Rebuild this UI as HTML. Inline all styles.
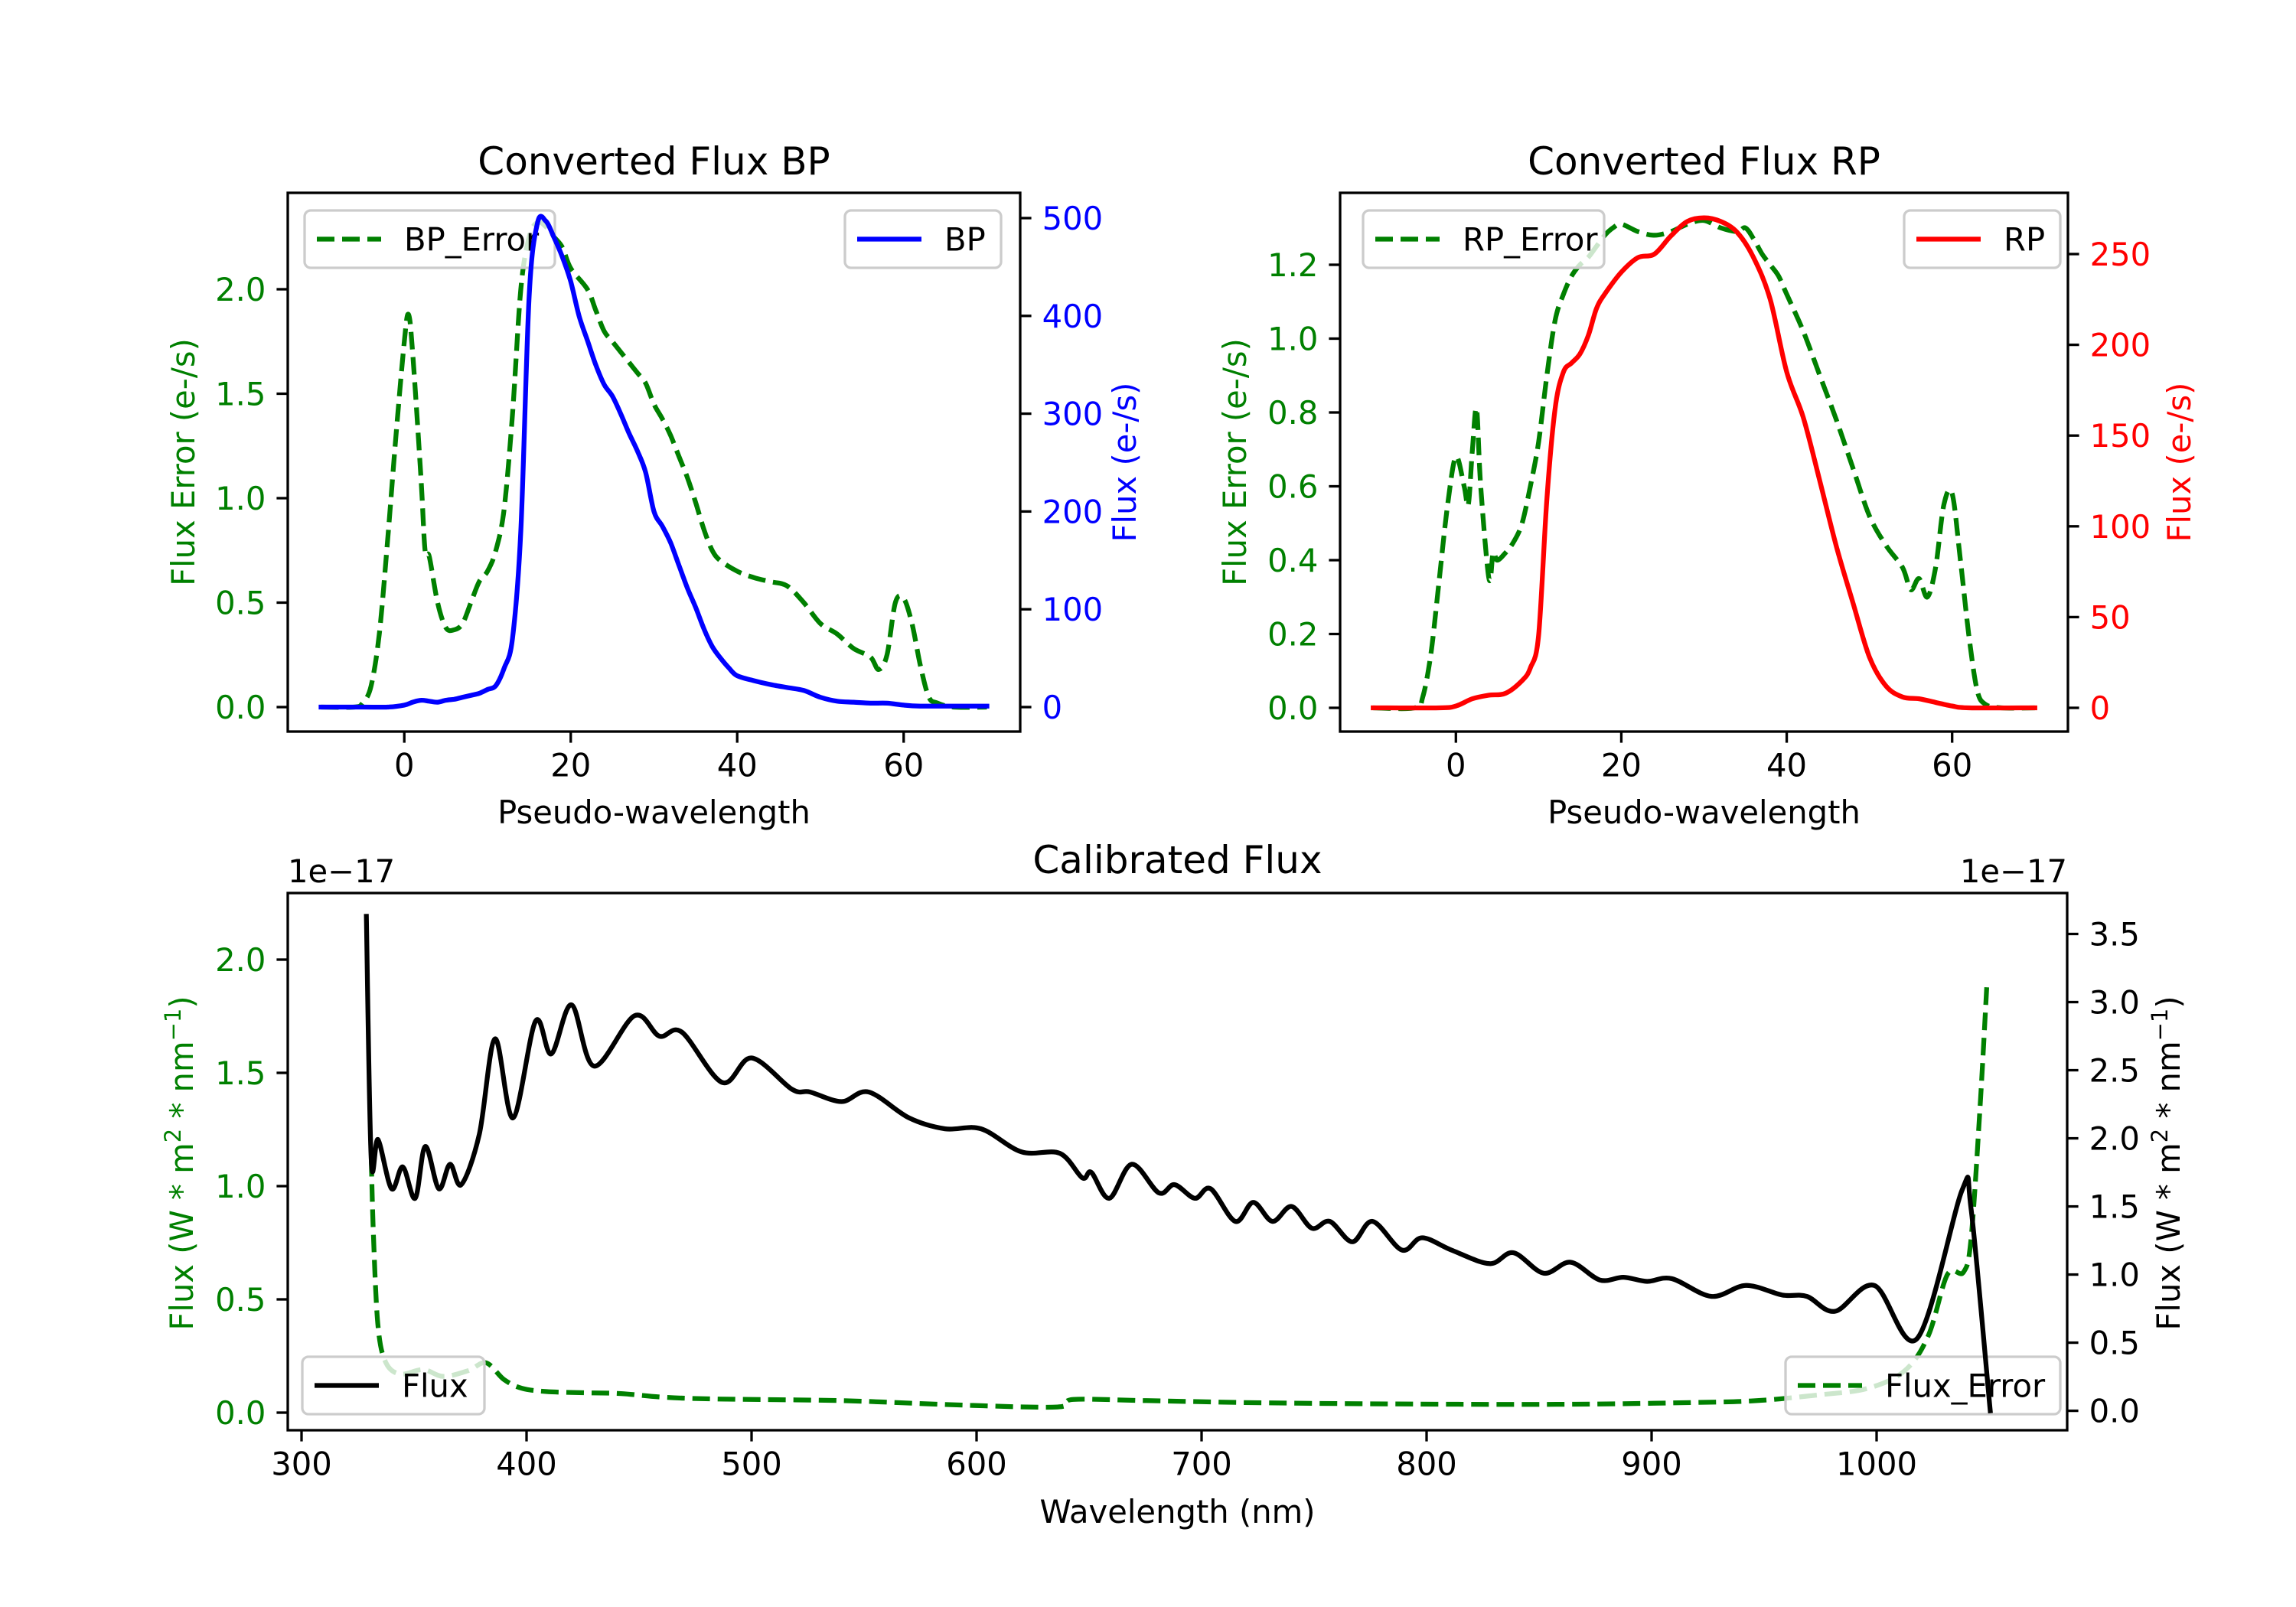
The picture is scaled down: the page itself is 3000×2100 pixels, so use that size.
<!DOCTYPE html>
<html><head><meta charset="utf-8">
<style>
html,body{margin:0;padding:0;background:#fff;}
svg{display:block;font-family:"DejaVu Sans","Liberation Sans",sans-serif;}
</style></head>
<body>
<svg id="fig" xmlns="http://www.w3.org/2000/svg" width="3000" height="2100" viewBox="0 0 3000 2100">
<rect width="3000" height="2100" fill="#fff"/>
</svg>
<script>
// ---------- BP panel data ----------
const bpX   = [-10,-5,-2,0,1,2,3,4,5,6,7,8,9,10,11,12,13,14,15,16,17,18,19,20,21,22,23,24,25,26,27,28,29,30,31,32,33,34,35,36,37,38,39,40,42,44,46,48,50,52,54,56,58,60,62,66,70];
const bpVal = [0,0,0,2,5,7,6,5,7,8,10,12,14,18,22,40,70,180,420,495,497,480,460,435,400,375,350,330,318,300,280,262,240,200,185,168,145,122,102,80,62,50,40,32,27,23,20,17,10,6,5,4,4,2,1,1,1];
const bpErrX   = [-10,-6,-5,-4,-3,-2,-1,0,0.5,1,2,2.5,3,4,5,6,7,8,9,10,11,12,13,14,15,16,17,18,19,20,22,23,24,25,26,27,28,29,30,31,32,33,34,35,36,37,38,40,42,44,46,48,50,52,54,56,57,58,59,60,61,62,63,64,66,70];
const bpErrVal = [0,0,0.02,0.1,0.35,0.8,1.3,1.75,1.88,1.7,1.1,0.75,0.72,0.5,0.38,0.37,0.4,0.5,0.6,0.65,0.75,0.95,1.4,2.0,2.25,2.32,2.3,2.25,2.2,2.1,2.0,1.9,1.8,1.75,1.7,1.65,1.6,1.55,1.45,1.38,1.3,1.2,1.1,0.98,0.85,0.75,0.7,0.65,0.62,0.6,0.58,0.5,0.4,0.35,0.28,0.24,0.18,0.25,0.5,0.52,0.4,0.2,0.05,0.02,0,0];
// ---------- RP panel data ----------
const rpX   = [-10,-2,0,2,4,6,8,9,10,11,12,13,14,15,16,17,18,20,22,24,26,28,30,32,34,36,38,40,42,44,46,48,50,52,54,56,58,60,62,70];
const rpVal = [0,0,1,5,7,8,15,22,40,115,165,185,190,195,205,220,228,240,248,250,260,268,270,268,262,248,225,185,160,125,89,58,28,12,6,5,3,1,0,0];
const rpErrX   = [-10,-5,-4,-3,-2,-1,0,1,1.5,2,2.5,3,4,4.5,5,6,7,8,9,10,11,12,13,14,15,16,17,18,19,20,22,24,26,28,30,32,34,35,36,37,38,39,40,42,44,46,48,50,52,54,55,56,57,58,59,60,61,62,63,64,66,70];
const rpErrVal = [0,0,0.03,0.15,0.35,0.55,0.68,0.6,0.55,0.7,0.81,0.6,0.35,0.42,0.4,0.42,0.45,0.5,0.6,0.72,0.9,1.05,1.12,1.17,1.2,1.22,1.25,1.28,1.3,1.31,1.29,1.28,1.29,1.31,1.32,1.3,1.29,1.3,1.27,1.23,1.2,1.17,1.12,1.02,0.9,0.78,0.65,0.52,0.44,0.38,0.32,0.35,0.3,0.38,0.55,0.58,0.4,0.2,0.05,0.01,0,0];
// ---------- Calibrated panel data (units 1e-17) ----------
const wlFlux = [328.8,331,334,340,345,350.5,355,361,366,371,379,386,394,404,411,420,430,448,459,469,487,500,518,526,540,552,570,586,602,620,637,647,651,659,669,681,688,697,704,715,723,731.5,740,749,757,767,776,789,798,811,828,838.6,852,864,877,887.5,898,909,926.6,942,958,969,981.5,999,1018,1038,1042,1050.5];
const fluxVal = [3.63,1.84,1.99,1.63,1.79,1.56,1.94,1.63,1.81,1.66,2.03,2.73,2.15,2.86,2.62,2.98,2.53,2.90,2.75,2.78,2.41,2.59,2.36,2.34,2.27,2.34,2.15,2.07,2.07,1.90,1.89,1.71,1.75,1.56,1.81,1.60,1.66,1.56,1.63,1.39,1.53,1.39,1.50,1.34,1.39,1.24,1.39,1.18,1.27,1.18,1.08,1.16,1.01,1.09,0.96,0.98,0.95,0.97,0.84,0.92,0.85,0.84,0.73,0.92,0.53,1.62,1.48,0.0];
const wlErr = [331,332,334,337.5,344,354,363,374,382,390,398,409,425.5,442,461,485,540,594,636,643,675.5,730,811,866,920,947,974,996,1012.5,1023,1031.5,1038.6,1042,1046,1049];
const fluxErrVal = [1.12,0.77,0.38,0.22,0.17,0.19,0.16,0.185,0.22,0.146,0.107,0.093,0.088,0.084,0.068,0.06,0.053,0.033,0.025,0.058,0.053,0.043,0.037,0.037,0.045,0.053,0.078,0.107,0.185,0.34,0.61,0.62,0.77,1.35,1.89];
// ---------- tick labels ----------
const pwTicks = [0,20,40,60];
const bpErrTicks = [0.0,0.5,1.0,1.5,2.0];
const bpTicks = [0,100,200,300,400,500];
const rpErrTicks = [0.0,0.2,0.4,0.6,0.8,1.0,1.2];
const rpTicks = [0,50,100,150,200,250];
const wlTicks = [300,400,500,600,700,800,900,1000];
const calErrTicks = [0.0,0.5,1.0,1.5,2.0];
const calFluxTicks = [0.0,0.5,1.0,1.5,2.0,2.5,3.0,3.5];

const NS='http://www.w3.org/2000/svg';
const svg=document.getElementById('fig');
function mk(tag,attrs,parent){const e=document.createElementNS(NS,tag);for(const k in attrs)e.setAttribute(k,attrs[k]);(parent||svg).appendChild(e);return e;}
function lin(d0,d1,p0,p1){return v=>p0+(v-d0)*(p1-p0)/(d1-d0);}
const FS=41.7, TL=14.6, LW=6.25, FW=3.3;
const GREEN='#008000';

function path(xs,ys,sx,sy,color,dashed,name,g){
  const P=xs.map((x,i)=>[sx(x),sy(ys[i])]);
  let d='M'+P[0][0].toFixed(1)+','+P[0][1].toFixed(1);
  const t=0.33;
  for(let i=0;i<P.length-1;i++){
    const p0=P[Math.max(0,i-1)],p1=P[i],p2=P[i+1],p3=P[Math.min(P.length-1,i+2)];
    const c1=[p1[0]+(p2[0]-p0[0])*t/2,p1[1]+(p2[1]-p0[1])*t/2];
    const c2=[p2[0]-(p3[0]-p1[0])*t/2,p2[1]-(p3[1]-p1[1])*t/2];
    d+='C'+c1[0].toFixed(1)+','+c1[1].toFixed(1)+' '+c2[0].toFixed(1)+','+c2[1].toFixed(1)+' '+p2[0].toFixed(1)+','+p2[1].toFixed(1);
  }
  const p=mk('path',{d:d,fill:'none',stroke:color,'stroke-width':LW,'stroke-linejoin':'round','stroke-linecap':dashed?'butt':'square'},g);
  if(dashed)p.setAttribute('stroke-dasharray','23 10');
  
  
  return p;
}
function text(x,y,s,opts,g){
  const t=mk('text',Object.assign({x:x,y:y,'font-size':FS,fill:'#000'},opts||{}),g);
  t.textContent=s;return t;
}
function fmt(v,dec){return v.toFixed(dec);}
function leftTicks(ticks,sy,x0,color,dec,name){
  const g=mk('g',{});
  ticks.forEach(v=>{const y=sy(v);mk('line',{x1:x0-TL,x2:x0,y1:y,y2:y,stroke:'#000','stroke-width':FW},g);
    text(x0-TL-14,y+15,fmt(v,dec),{'text-anchor':'end',fill:color},g);});
}
function rightTicks(ticks,sy,x1,color,dec,name){
  const g=mk('g',{});
  ticks.forEach(v=>{const y=sy(v);mk('line',{x1:x1,x2:x1+TL,y1:y,y2:y,stroke:'#000','stroke-width':FW},g);
    text(x1+TL+14,y+15,fmt(v,dec),{'text-anchor':'start',fill:color},g);});
}
function bottomTicks(ticks,sx,y1,name){
  const g=mk('g',{});
  ticks.forEach(v=>{const x=sx(v);mk('line',{x1:x,x2:x,y1:y1,y2:y1+TL,stroke:'#000','stroke-width':FW},g);
    text(x,y1+TL+44,String(v),{'text-anchor':'middle'},g);});
}
function legend(x0,y0,x1,y1,color,dashed,label,name){
  const g=mk('g',{});
  mk('rect',{x:x0,y:y0,width:x1-x0,height:y1-y0,rx:8,fill:'#fff','fill-opacity':0.8,stroke:'#cccccc','stroke-width':FW},g);
  const ym=(y0+y1)/2;
  const l=mk('line',{x1:x0+16,x2:x0+100,y1:ym,y2:ym,stroke:color,'stroke-width':LW},g);
  if(dashed)l.setAttribute('stroke-dasharray','23 10');
  text(x0+130,ym+15,label,{},g);
}
function vlabel(x,y,s,color,name,sup){
  const t=mk('text',{x:0,y:0,'font-size':FS,fill:color,'text-anchor':'middle',transform:`translate(${x},${y}) rotate(-90)`});
  
  
  if(sup){t.innerHTML=s;}else t.textContent=s;
}
function frame(x0,y0,x1,y1,name){
  const r=mk('rect',{x:x0,y:y0,width:x1-x0,height:y1-y0,fill:'none',stroke:'#000','stroke-width':FW});
  
  
}
function clip(id,x0,y0,x1,y1){const c=mk('clipPath',{id:id});mk('rect',{x:x0,y:y0,width:x1-x0,height:y1-y0},c);}

// ===== Panel 1: BP =====
(function(){
  const L=376,R=1333,T=252,B=956;
  const sx=lin(-14,74,L,R);
  const sy1=lin(0,2.0,924,378);
  const sy2=lin(0,500,924,285);
  clip('c1',L,T,R,B);
  const g=mk('g',{'clip-path':'url(#c1)'});
  path(bpErrX,bpErrVal,sx,sy1,GREEN,true,'bp-error-line',g);
  legend(398,275,725,350,GREEN,true,'BP_Error','bp-error-legend');
  const g2=mk('g',{'clip-path':'url(#c1)'});
  path(bpX,bpVal,sx,sy2,'#0000ff',false,'bp-flux-line',g2);
  legend(1104,275,1308,350,'#0000ff',false,'BP','bp-legend');
  frame(L,T,R,B,'bp-axes-frame');
  leftTicks(bpErrTicks,sy1,L,GREEN,1,'bp-left-y-ticks');
  rightTicks(bpTicks,sy2,R,'#0000ff',0,'bp-right-y-ticks');
  bottomTicks(pwTicks,sx,B,'bp-x-ticks');
  const t=text((L+R)/2,228,'Converted Flux BP',{'text-anchor':'middle','font-size':50});
  const xl=text((L+R)/2,1076,'Pseudo-wavelength',{'text-anchor':'middle'});
  vlabel(254,604,'Flux Error (e-/s)',GREEN,'bp-left-y-axis-title');
  vlabel(1484,604,'Flux (e-/s)','#0000ff','bp-right-y-axis-title');
})();

// ===== Panel 2: RP =====
(function(){
  const L=1751,R=2702,T=252,B=956;
  const sx=lin(-14,74,L,R);
  const sy1=lin(0,1.2,925,346);
  const sy2=lin(0,250,925,332);
  clip('c2',L,T,R,B);
  const g=mk('g',{'clip-path':'url(#c2)'});
  path(rpErrX,rpErrVal,sx,sy1,GREEN,true,'rp-error-line',g);
  legend(1781,275,2096,350,GREEN,true,'RP_Error','rp-error-legend');
  const g2=mk('g',{'clip-path':'url(#c2)'});
  path(rpX,rpVal,sx,sy2,'#ff0000',false,'rp-flux-line',g2);
  legend(2488,275,2692,350,'#ff0000',false,'RP','rp-legend');
  frame(L,T,R,B,'rp-axes-frame');
  leftTicks(rpErrTicks,sy1,L,GREEN,1,'rp-left-y-ticks');
  rightTicks(rpTicks,sy2,R,'#ff0000',0,'rp-right-y-ticks');
  bottomTicks(pwTicks,sx,B,'rp-x-ticks');
  const t=text((L+R)/2,228,'Converted Flux RP',{'text-anchor':'middle','font-size':50});
  const xl=text((L+R)/2,1076,'Pseudo-wavelength',{'text-anchor':'middle'});
  vlabel(1628,604,'Flux Error (e-/s)',GREEN,'rp-left-y-axis-title');
  vlabel(2862,604,'Flux (e-/s)','#ff0000','rp-right-y-axis-title');
})();

// ===== Panel 3: Calibrated =====
(function(){
  const L=376,R=2701,T=1167,B=1869;
  const sx=lin(300,1000,394,2452);
  const sy1=lin(0,2.0,1846,1254);
  const sy2=lin(0,3.5,1843.6,1220.5);
  clip('c3',L,T,R,B);
  const g=mk('g',{'clip-path':'url(#c3)'});
  path(wlErr,fluxErrVal,sx,sy1,GREEN,true,'flux-error-line',g);
  legend(395,1773,633,1848,'#000',false,'Flux','flux-legend');
  legend(2333,1773,2692,1848,GREEN,true,'Flux_Error','flux-error-legend');
  const g2=mk('g',{'clip-path':'url(#c3)'});
  path(wlFlux,fluxVal,sx,sy2,'#000',false,'flux-line',g2);
  frame(L,T,R,B,'calibrated-axes-frame');
  leftTicks(calErrTicks,sy1,L,GREEN,1,'calibrated-left-y-ticks');
  rightTicks(calFluxTicks,sy2,R,'#000',1,'calibrated-right-y-ticks');
  bottomTicks(wlTicks,sx,B,'calibrated-x-ticks');
  const t=text((L+R)/2,1141,'Calibrated Flux',{'text-anchor':'middle','font-size':50});
  const xl=text((L+R)/2,1990,'Wavelength (nm)',{'text-anchor':'middle'});
  const o1=text(L,1153,'1e\u221217',{});
  const o2=text(R,1153,'1e\u221217',{'text-anchor':'end'});
  const lab='Flux (W * m<tspan dy="-16" font-size="29">2</tspan><tspan dy="16"> * nm</tspan><tspan dy="-16" font-size="29">\u22121</tspan><tspan dy="16">)</tspan>';
  vlabel(252,1520,lab,GREEN,'calibrated-left-y-axis-title',true);
  vlabel(2848,1520,lab,'#000','calibrated-right-y-axis-title',true);
})();
</script>
</body></html>
